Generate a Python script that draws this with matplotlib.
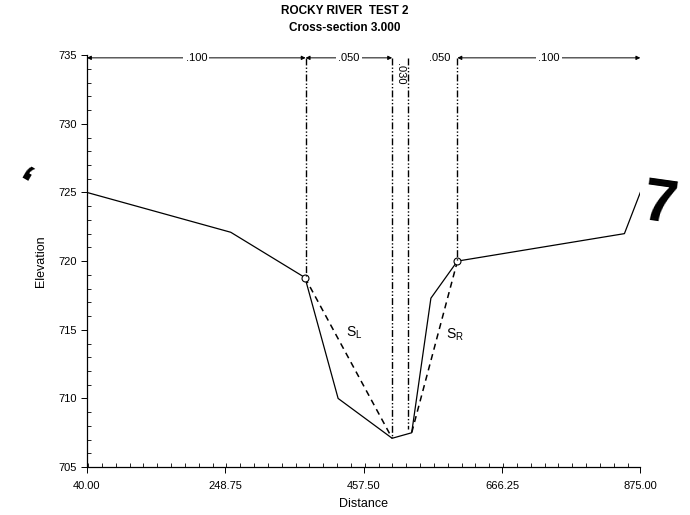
import matplotlib
matplotlib.use("Agg")
import matplotlib.pyplot as plt
from matplotlib.ticker import MultipleLocator, FixedLocator

plt.rcParams['font.family'] = ['Liberation Sans', 'DejaVu Sans']

# ground profile (station, elevation)
station = [40, 257, 369, 419, 500.5, 530, 559, 599, 851, 875]
elevation = [725.0, 722.1, 718.8, 710.0, 707.1, 707.5, 717.3, 720.0, 722.0, 725.0]

# roughness sub-areas: boundaries and Manning n
n_bounds = [40, 370, 500.5, 525, 599, 875]
n_values = [".100", ".050", ".030", ".050", ".100"]

# bank points and the channel bottom points used for the side slopes
left_bank = (369, 718.8)
right_bank = (599, 720.0)
bottom_left = (500.5, 707.1)
bottom_right = (530, 707.5)

x_ticks = [40.00, 248.75, 457.50, 666.25, 875.00]
y_ticks = [705, 710, 715, 720, 725, 730, 735]

fig = plt.figure(figsize=(6.9, 5.15), dpi=100)
ax = fig.add_axes([0.126, 0.093, 0.802, 0.8])

ax.plot(station, elevation, color='black', lw=0.9)

# side slopes S_L / S_R
ax.plot([left_bank[0], bottom_left[0]], [left_bank[1], bottom_left[1]],
        color='black', lw=1.1, ls=(0, (4, 3)))
ax.plot([right_bank[0], bottom_right[0]], [right_bank[1], bottom_right[1]],
        color='black', lw=1.1, ls=(0, (4, 3)))
ax.plot(*zip(left_bank, right_bank), ls='none', marker='o', ms=5,
        mfc='white', mec='black', mew=0.8)

# n-value boundary lines
top = 734.8
ends = [left_bank[1], bottom_left[1], bottom_right[1] + 0.3, right_bank[1]]
for xb, yb in zip(n_bounds[1:-1], ends):
    ax.plot([xb, xb], [top, yb], color='black', lw=1.0,
            ls=(0, (5, 1.5, 1, 1.5, 1, 1.5)))

# dimension arrows with n values
for i, lab in enumerate(n_values):
    x0, x1 = n_bounds[i], n_bounds[i + 1]
    xm = (x0 + x1) / 2
    if lab == ".030":
        ax.text(xm, top - 0.4, lab, rotation=270, ha='center', va='top',
                fontsize=8)
        continue
    if i == 3:
        ax.text(xm + 10, top, lab, ha='center', va='center', fontsize=8)
        continue
    ax.annotate('', xy=(x0, top), xytext=(x1, top),
                arrowprops=dict(arrowstyle='<|-|>', color='black', lw=0.7,
                                mutation_scale=6, shrinkA=0, shrinkB=0),
                annotation_clip=False)
    ax.text(xm, top, lab, ha='center', va='center', fontsize=8,
            bbox=dict(facecolor='white', edgecolor='none', pad=1.5))

ax.text(444, 714.8, '$\\mathregular{S_L}$', fontsize=10, ha='center', va='center')
ax.text(596, 714.6, '$\\mathregular{S_R}$', fontsize=10, ha='center', va='center')

ax.set_xlim(40, 875)
ax.set_ylim(705, 735)
ax.xaxis.set_major_locator(FixedLocator(x_ticks))
ax.xaxis.set_minor_locator(MultipleLocator(20.875))
ax.set_xticklabels([f"{v:.2f}" for v in x_ticks])
ax.yaxis.set_major_locator(FixedLocator(y_ticks))
ax.yaxis.set_minor_locator(MultipleLocator(1))
ax.tick_params(which='major', direction='out', length=4, width=0.7, labelsize=8)
ax.tick_params(which='minor', direction='in', length=3, width=0.6)
ax.tick_params(axis='x', pad=6)
for side in ('top', 'right'):
    ax.spines[side].set_visible(False)
for side in ('left', 'bottom'):
    ax.spines[side].set_linewidth(0.9)

ax.set_xlabel('Distance', fontsize=9, labelpad=5)
ax.set_ylabel('Elevation', fontsize=9, labelpad=8)

fig.text(0.5, 0.978, 'ROCKY RIVER  TEST 2', ha='center', va='center',
         fontsize=8.5, fontweight='bold')
fig.text(0.5, 0.945, 'Cross-section 3.000', ha='center', va='center',
         fontsize=8.5, fontweight='bold')

# margin marks
fig.text(0.955, 0.60, '7', ha='center', va='center', fontsize=44,
         fontweight='bold', rotation=-8)
fig.text(0.025, 0.65, ',', ha='center', va='center', fontsize=34,
         fontweight='bold', rotation=150)

fig.savefig('out.png', dpi=100)
